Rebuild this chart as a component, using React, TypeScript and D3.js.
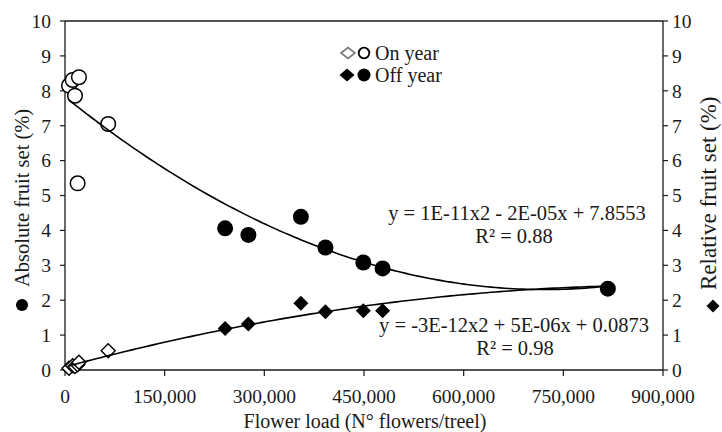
import React from "react";
import * as d3 from "d3";

// ---- data ----
const onYearLoad = [6000, 11500, 15000, 19000, 21000, 65000];
const onYearAbsolute = [8.15, 8.31, 7.86, 5.35, 8.39, 7.05];
const onYearRelative = [0.05, 0.12, 0.1, 0.15, 0.22, 0.55];

const offYearLoad = [241000, 276000, 355000, 392000, 449000, 478000, 817000];
const offYearAbsolute = [4.06, 3.87, 4.39, 3.51, 3.08, 2.91, 2.33];
const offYearRelative = [1.19, 1.32, 1.91, 1.67, 1.7, 1.7, 2.33];

// quadratic trendline coefficients [a, b, c] as drawn
const absoluteTrend = [1.06e-11, -1.53e-5, 7.827];
const relativeTrend = [-2.823e-12, 5.145e-6, 0.0873];

const absoluteEq = "y = 1E-11x2 - 2E-05x + 7.8553";
const absoluteR2 = "R² = 0.88";
const relativeEq = "y = -3E-12x2 + 5E-06x + 0.0873";
const relativeR2 = "R² = 0.98";

const xTicks = [0, 150000, 300000, 450000, 600000, 750000, 900000];
const yTicks = [0, 1, 2, 3, 4, 5, 6, 7, 8, 9, 10];

const legendLabels = ["On year", "Off year"];
const xTitle = "Flower load (N° flowers/treel)";
const yLeftTitle = "Absolute fruit set (%)";
const yRightTitle = "Relative fruit set (%)";

// ---- layout ----
const W = 722;
const H = 432;
const L = 65;
const R = 663;
const T = 21;
const B = 370;
const FONT = "'Liberation Serif', 'Times New Roman', serif";
const INK = "#1a1a1a";

const x = d3.scaleLinear().domain([0, 900000]).range([L, R]);
const y = d3.scaleLinear().domain([0, 10]).range([B, T]);

const diamond = (h: number) => `M0,${-h}L${h},0L0,${h}L${-h},0Z`;

function trendPath(coef: number[], x0: number, x1: number) {
  const n = 120;
  const pts: [number, number][] = d3.range(n + 1).map((i) => {
    const xv = x0 + ((x1 - x0) * i) / n;
    return [xv, coef[0] * xv * xv + coef[1] * xv + coef[2]];
  });
  return d3
    .line<[number, number]>()
    .x((d) => x(d[0]))
    .y((d) => y(d[1]))(pts) as string;
}

export default function App() {
  const allLoad = [...onYearLoad, ...offYearLoad];
  const xmin = d3.min(allLoad) as number;
  const xmax = d3.max(allLoad) as number;
  const fmt = d3.format(",");

  return (
    <svg
      width={W}
      height={H}
      viewBox={`0 0 ${W} ${H}`}
      style={{ position: "absolute", left: 0, top: 0, background: "#fff" }}
      fontFamily={FONT}
    >
      <rect x={0} y={0} width={W} height={H} fill="#fff" />

      {/* frame */}
      <g stroke={INK} strokeWidth={1.3} fill="none">
        <line x1={L} y1={T} x2={R} y2={T} />
        <line x1={L} y1={B} x2={R} y2={B} />
        <line x1={L} y1={T} x2={L} y2={B} />
        <line x1={R} y1={T} x2={R} y2={B} />
      </g>

      {/* y ticks left & right */}
      {yTicks.map((t) => (
        <g key={"y" + t}>
          <line x1={L - 5} x2={L} y1={y(t)} y2={y(t)} stroke={INK} strokeWidth={1.2} />
          <line x1={R} x2={R + 5} y1={y(t)} y2={y(t)} stroke={INK} strokeWidth={1.2} />
          <text x={51} y={y(t)} dy="0.35em" textAnchor="end" fontSize={19.5} fill={INK}>
            {t}
          </text>
          <text x={672} y={y(t)} dy="0.35em" textAnchor="start" fontSize={19.5} fill={INK}>
            {t}
          </text>
        </g>
      ))}

      {/* x ticks */}
      {xTicks.map((t) => (
        <g key={"x" + t}>
          <line x1={x(t)} x2={x(t)} y1={B} y2={B + 6} stroke={INK} strokeWidth={1.2} />
          <text x={x(t)} y={403} textAnchor="middle" fontSize={19.5} fill={INK}>
            {fmt(t)}
          </text>
        </g>
      ))}

      {/* axis titles */}
      <text x={365} y={428} textAnchor="middle" fontSize={20} fill={INK}>
        {xTitle}
      </text>
      <circle cx={22} cy={305} r={6} fill="#000" />
      <text
        transform="translate(29,287) rotate(-90)"
        textAnchor="start"
        fontSize={20.5}
        fill={INK}
      >
        {yLeftTitle}
      </text>
      <path d={diamond(6.5)} transform="translate(713,306)" fill="#000" />
      <text
        transform="translate(715.5,290) rotate(-90)"
        textAnchor="start"
        fontSize={23}
        fill={INK}
      >
        {yRightTitle}
      </text>

      {/* points: on year */}
      {onYearLoad.map((v, i) => (
        <path
          key={"od" + i}
          d={diamond(7)}
          transform={`translate(${x(v)},${y(onYearRelative[i])})`}
          fill="#fff"
          stroke="#000"
          strokeWidth={1.4}
        />
      ))}
      {onYearLoad.map((v, i) => (
        <circle
          key={"oc" + i}
          cx={x(v)}
          cy={y(onYearAbsolute[i])}
          r={7.3}
          fill="#fff"
          stroke="#000"
          strokeWidth={1.5}
        />
      ))}

      {/* points: off year */}
      {offYearLoad.map((v, i) => (
        <path
          key={"fd" + i}
          d={diamond(7.5)}
          transform={`translate(${x(v)},${y(offYearRelative[i])})`}
          fill="#000"
        />
      ))}
      {offYearLoad.map((v, i) => (
        <circle key={"fc" + i} cx={x(v)} cy={y(offYearAbsolute[i])} r={8} fill="#000" />
      ))}

      {/* trendlines */}
      <path d={trendPath(absoluteTrend, xmin, xmax)} fill="none" stroke="#000" strokeWidth={1.6} />
      <path d={trendPath(relativeTrend, xmin, xmax)} fill="none" stroke="#000" strokeWidth={1.6} />

      {/* equations */}
      <g fontSize={20.5} fill={INK} textAnchor="middle">
        <text x={517} y={220}>{absoluteEq}</text>
        <text x={514} y={243}>{absoluteR2}</text>
        <text x={514} y={332}>{relativeEq}</text>
        <text x={515} y={355}>{relativeR2}</text>
      </g>

      {/* legend */}
      <g>
        <path
          d="M-7,0L0,-5.5L7,0L0,5.5Z"
          transform="translate(348,53)"
          fill="#fff"
          stroke="#777"
          strokeWidth={1.6}
        />
        <circle cx={364} cy={53} r={5.3} fill="#fff" stroke="#000" strokeWidth={1.8} />
        <text x={375} y={59.5} fontSize={20} fill={INK}>
          {legendLabels[0]}
        </text>
        <path d="M-7.5,0L0,-6.5L7.5,0L0,6.5Z" transform="translate(347,75)" fill="#000" />
        <circle cx={364} cy={75} r={6.5} fill="#000" />
        <text x={375} y={82} fontSize={20} fill={INK}>
          {legendLabels[1]}
        </text>
      </g>
    </svg>
  );
}
